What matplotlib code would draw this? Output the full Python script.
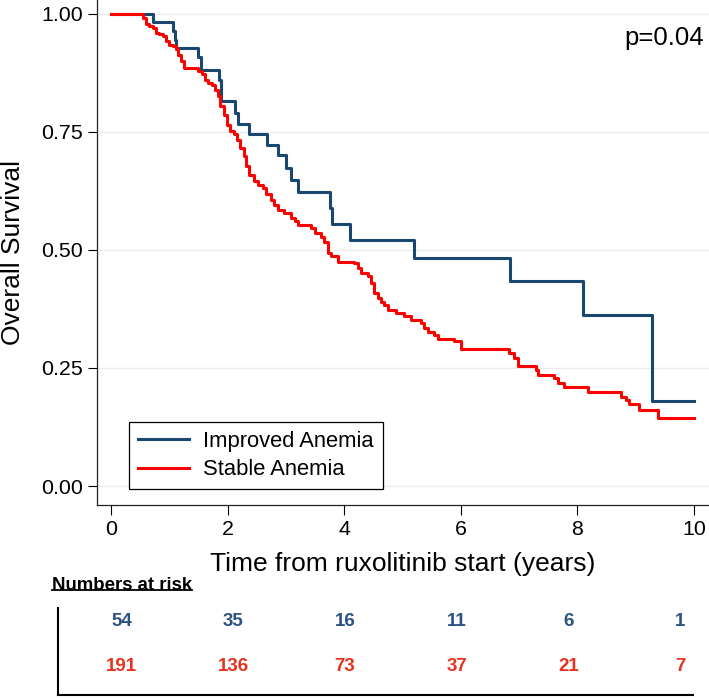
import numpy as np
import matplotlib
matplotlib.use("Agg")
from matplotlib import pyplot as plt
from matplotlib.lines import Line2D

plt.rcParams["font.family"] = ["Liberation Sans", "DejaVu Sans"]

# Kaplan-Meier steps (time in years, survival)
improved_t = [0, 0.715, 1.06, 1.09, 1.12, 1.49, 1.54, 1.85, 1.89, 2.13, 2.18,
              2.36, 2.68, 2.86, 3.0, 3.09, 3.2, 3.76, 3.79, 4.10, 5.2, 6.85,
              8.1, 9.29, 10.0]
improved_s = [1.0, 0.982, 0.963, 0.944, 0.926, 0.907, 0.880, 0.860, 0.814,
              0.790, 0.767, 0.744, 0.721, 0.700, 0.673, 0.648, 0.623, 0.588,
              0.555, 0.520, 0.482, 0.434, 0.362, 0.180, 0.180]

stable_t = [0, 0.549, 0.600, 0.657, 0.715, 0.772, 0.829, 0.886, 0.943, 1.0,
            1.058, 1.115, 1.155, 1.2, 1.246, 1.498, 1.555, 1.612, 1.669, 1.727,
            1.784, 1.830, 1.875, 1.932, 1.990, 2.047, 2.104, 2.161, 2.219,
            2.276, 2.316, 2.373, 2.447, 2.516, 2.602, 2.659, 2.745, 2.802,
            2.859, 2.973, 3.088, 3.156, 3.214, 3.431, 3.499, 3.602, 3.660,
            3.717, 3.774, 3.888, 4.174, 4.231, 4.288, 4.403, 4.460, 4.517,
            4.574, 4.631, 4.688, 4.746, 4.889, 5.031, 5.146, 5.317, 5.374,
            5.432, 5.546, 5.603, 5.889, 6.003, 6.832, 6.918, 6.975, 7.29,
            7.319, 7.605, 7.662, 7.776, 8.176, 8.748, 8.834, 8.891, 9.063,
            9.377, 10.0]
stable_s = [1.0, 0.991, 0.977, 0.973, 0.970, 0.959, 0.956, 0.952, 0.941, 0.934,
            0.931, 0.924, 0.913, 0.899, 0.885, 0.878, 0.871, 0.860, 0.853,
            0.848, 0.839, 0.825, 0.804, 0.786, 0.765, 0.751, 0.744, 0.733,
            0.715, 0.698, 0.677, 0.659, 0.645, 0.638, 0.631, 0.617, 0.606,
            0.595, 0.585, 0.578, 0.567, 0.560, 0.553, 0.546, 0.535, 0.527,
            0.517, 0.493, 0.486, 0.475, 0.472, 0.461, 0.451, 0.444, 0.429,
            0.408, 0.398, 0.390, 0.383, 0.373, 0.366, 0.360, 0.352, 0.345,
            0.334, 0.327, 0.320, 0.311, 0.306, 0.290, 0.281, 0.270, 0.254,
            0.246, 0.235, 0.228, 0.217, 0.209, 0.198, 0.189, 0.182, 0.174,
            0.161, 0.143, 0.143]

risk_times = [0, 2, 4, 6, 8, 10]
risk_improved = [54, 35, 16, 11, 6, 1]
risk_stable = [191, 136, 73, 37, 21, 7]

labels = ["Improved Anemia", "Stable Anemia"]
p_text = "p=0.04"

BLUE = "#1a476f"
RED = "#ff0000"
BLUE_TXT = "#2b5283"
RED_TXT = "#e8321f"


def main():
    W, H = 709, 700
    fig = plt.figure(figsize=(W / 100, H / 100), dpi=100)

    # main KM axes (pixel layout from the reference)
    ax = fig.add_axes([97 / W, 1 - 505 / H, 612 / W, 505 / H])
    ax.step(improved_t, improved_s, where="post", color=BLUE, lw=2.2,
            label=labels[0], zorder=3)
    ax.step(stable_t, stable_s, where="post", color=RED, lw=2.2,
            label=labels[1], zorder=3)

    ax.set_xlim(-0.24, 10.26)
    ax.set_ylim(-0.0402, 1.0286)
    ax.set_xticks([0, 2, 4, 6, 8, 10])
    ax.set_yticks([0, 0.25, 0.5, 0.75, 1.0])
    ax.set_yticklabels(["0.00", "0.25", "0.50", "0.75", "1.00"])
    ax.grid(axis="y", color="#ebebeb", lw=1.0)
    ax.set_axisbelow(True)
    for side in ("top", "right"):
        ax.spines[side].set_visible(False)
    for side in ("left", "bottom"):
        ax.spines[side].set_linewidth(0.9)
        ax.spines[side].set_color("#222222")
    ax.tick_params(axis="y", length=6.5, width=0.8, pad=3.5, labelsize=15.4)
    ax.tick_params(axis="x", length=7, width=0.8, pad=3.5, labelsize=15.4)

    ax.set_xlabel("Time from ruxolitinib start (years)", fontsize=19)
    ax.set_ylabel("Overall Survival", fontsize=19)
    ax.xaxis.set_label_coords(0.5, -0.093)
    ax.yaxis.set_label_coords(-0.118, 0.5)

    leg = ax.legend(loc="lower left", bbox_to_anchor=(0.0523, 0.0317),
                    borderaxespad=0, fontsize=15.8, frameon=True,
                    fancybox=False, framealpha=1, edgecolor="black",
                    handlelength=2.33, handletextpad=0.65, labelspacing=0.35,
                    borderpad=0.4)
    leg.get_frame().set_linewidth(0.9)

    fig.text(704 / W, 1 - 45 / H, p_text, ha="right", va="baseline",
             fontsize=18.5)

    # numbers at risk table
    tab = fig.add_axes([58 / W, 1 - 695 / H, (693 - 58) / W, (695 - 608) / H])
    tab.set_xlim(-0.57, 5.116)
    tab.set_ylim(-0.63, 1.30)
    tab.set_xticks([])
    tab.set_yticks([])
    for side in ("top", "right"):
        tab.spines[side].set_visible(False)
    for side in ("left", "bottom"):
        tab.spines[side].set_linewidth(1.5)
        tab.spines[side].set_color("black")
    tab.patch.set_alpha(0)
    for i, _ in enumerate(risk_times):
        tab.text(i, 1, str(risk_improved[i]), ha="center", va="center",
                 color=BLUE_TXT, fontsize=13.5, fontweight="bold")
        tab.text(i, 0, str(risk_stable[i]), ha="center", va="center",
                 color=RED_TXT, fontsize=13.5, fontweight="bold")

    title = fig.text(52 / W, 1 - 585 / H, "Numbers at risk", ha="left",
                     va="center", fontsize=13.4, fontweight="bold")
    fig.canvas.draw()
    bb = title.get_window_extent().transformed(fig.transFigure.inverted())
    uy = bb.y0 + 0.2 * (bb.y1 - bb.y0)
    fig.add_artist(Line2D([bb.x0, bb.x1], [uy, uy], color="black", lw=1.3,
                          transform=fig.transFigure))

    fig.savefig("out.png", dpi=100)


if __name__ == "__main__":
    main()
